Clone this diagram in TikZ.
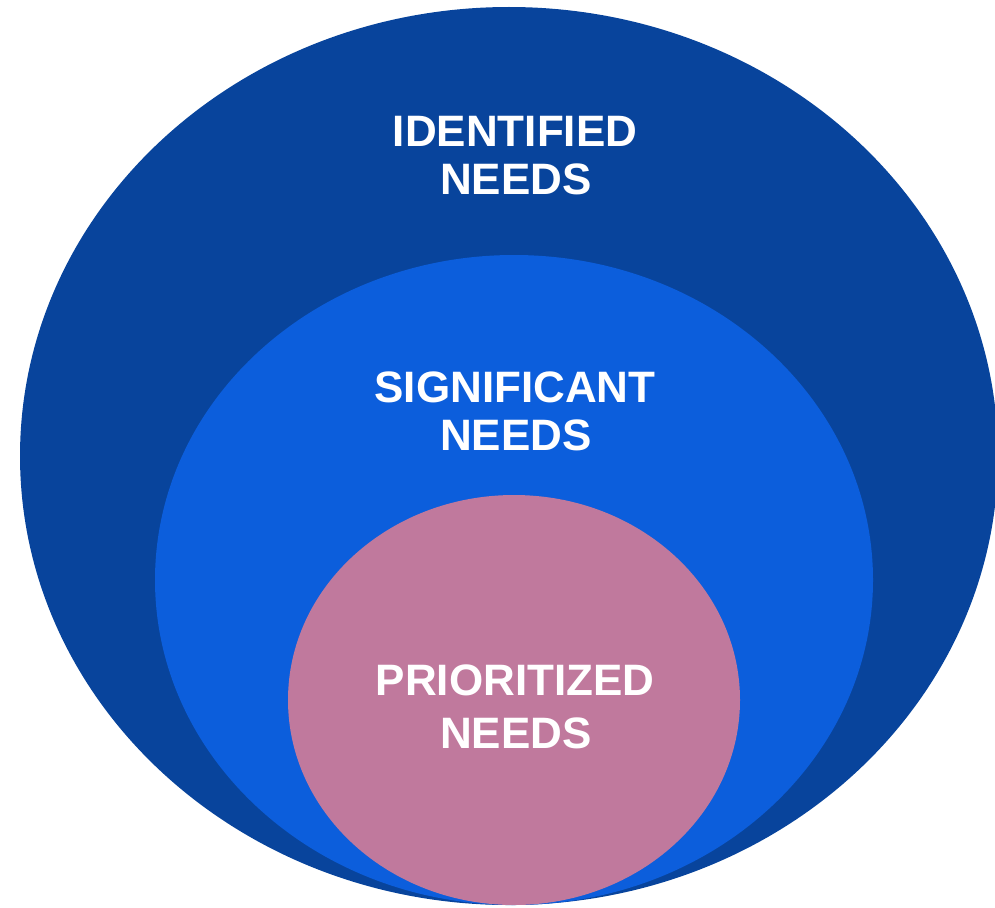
\documentclass[tikz,border=0pt]{standalone}
\usepackage{fontspec}
\setmainfont{Liberation Sans}
\definecolor{outerblue}{HTML}{08449C}
\definecolor{midblue}{HTML}{0C5EDC}
\definecolor{innerpink}{HTML}{C0799D}
\begin{document}
\begin{tikzpicture}[x=1pt,y=-1pt,
  lbl/.style={text=white,font=\fontsize{44}{48}\selectfont\bfseries,anchor=base,inner sep=0pt}]
\useasboundingbox (0,0) rectangle (995,907);
\clip (0,0) rectangle (995,907);
\fill[outerblue] (509,456) ellipse [x radius=489, y radius=449];
\fill[midblue] (514,580) ellipse [x radius=359, y radius=325];
\fill[innerpink] (514,700) ellipse [x radius=226, y radius=205];
\node[lbl] (id1) at (515,146) {IDENTIFIED};
\node[lbl] (id2) at (516,194) {NEEDS};
\node[lbl] (sg1) at (515,402) {SIGNIFICANT};
\node[lbl] (sg2) at (516,450) {NEEDS};
\node[lbl] (pr1) at (515,695) {PRIORITIZED};
\node[lbl] (pr2) at (516,748) {NEEDS};
\end{tikzpicture}
\end{document}
